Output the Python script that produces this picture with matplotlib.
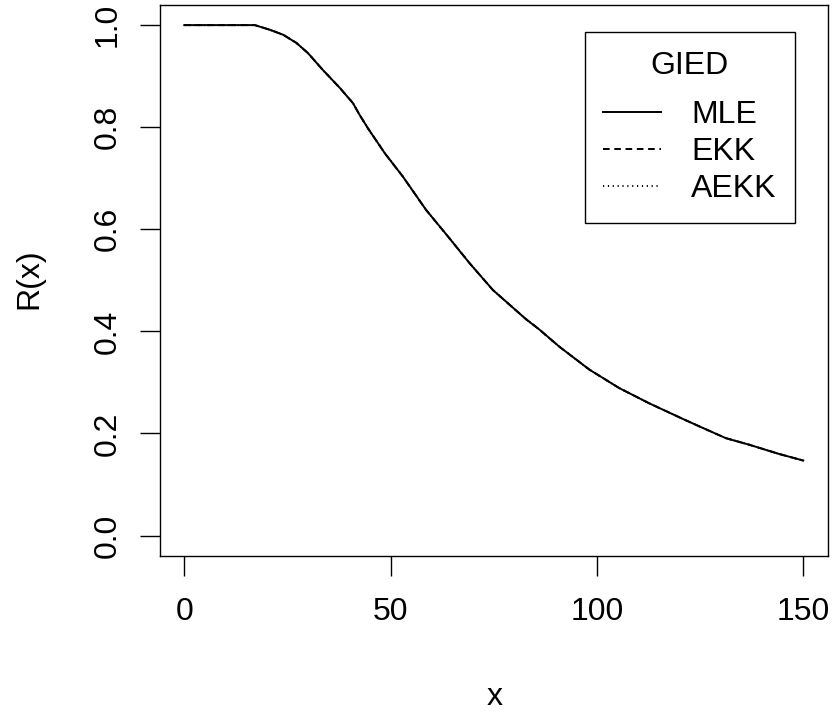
import matplotlib
matplotlib.use("Agg")
import matplotlib.pyplot as plt

# --- données ---
x_vals = [0, 17.1, 20.7, 24.0, 27.2, 30.0, 33.6, 37.7, 40.9, 42.5, 44.5,
          48.6, 53.0, 58.6, 63.9, 69.1, 74.8, 82.8, 86.0, 90.9, 98.2,
          105.4, 112.7, 120.7, 124.8, 131.2, 136.9, 144.1, 150.0]
r_mle = [1.0, 1.0, 0.991, 0.981, 0.965, 0.945, 0.912, 0.877, 0.847, 0.824, 0.798,
         0.749, 0.703, 0.638, 0.586, 0.534, 0.481, 0.424, 0.404, 0.370, 0.325,
         0.289, 0.259, 0.229, 0.214, 0.191, 0.178, 0.160, 0.147]
# les trois courbes se superposent sur le graphique
r_ekk = list(r_mle)
r_aekk = list(r_mle)

series_names = ["MLE", "EKK", "AEKK"]
x_ticks = [0, 50, 100, 150]
y_ticks = [0.0, 0.2, 0.4, 0.6, 0.8, 1.0]
y_tick_labels = ["0.0", "0.2", "0.4", "0.6", "0.8", "1.0"]

plt.rcParams['font.family'] = ['Liberation Sans', 'DejaVu Sans']

W, H = 834, 713
fig = plt.figure(figsize=(W / 100, H / 100), dpi=100)
box_l, box_r, box_t, box_b = 159.5, 828.0, 4.7, 556.0
ax = fig.add_axes([box_l / W, (H - box_b) / H, (box_r - box_l) / W, (box_b - box_t) / H])

lw = 1.4
ax.plot(x_vals, r_mle, color='black', lw=lw, linestyle='-', label=series_names[0])
ax.plot(x_vals, r_ekk, color='black', lw=lw, linestyle=(0, (3.4, 2.4)), label=series_names[1])
ax.plot(x_vals, r_aekk, color='black', lw=lw, linestyle=(0, (0.6, 1.9)), label=series_names[2])

ax.set_xlim(-6, 156)
ax.set_ylim(-0.04, 1.04)
ax.set_xticks(x_ticks)
ax.set_xticklabels([str(v) for v in x_ticks])
ax.set_yticks(y_ticks)
ax.set_yticklabels(y_tick_labels)

for s in ax.spines.values():
    s.set_linewidth(1.0)
    s.set_color('black')

ax.tick_params(axis='both', direction='out', length=14.4, width=1.0, labelsize=23, color='black')
ax.tick_params(axis='x', pad=15)
ax.tick_params(axis='y', pad=12)
plt.setp(ax.get_yticklabels(), rotation=90, va='center')

fig.text(495 / W, (H - 705) / H, "x", fontsize=23, ha='center', va='baseline')
fig.text(29 / W, 1 - 279 / H, "R(x)", fontsize=23, rotation=90, ha='center', va='center')

leg = ax.legend(title="GIED", loc='upper right', bbox_to_anchor=(0.9506, 0.95),
                fancybox=False, edgecolor='black', framealpha=1, borderaxespad=0,
                fontsize=23, title_fontsize=23, handlelength=1.8, handletextpad=0.95,
                labelspacing=0.22, borderpad=0.58)
leg.get_frame().set_linewidth(1.0)
# écart plus grand entre le titre et la première entrée (comme dans R)
leg._legend_box.sep = 14

fig.savefig("out.png", dpi=100)
